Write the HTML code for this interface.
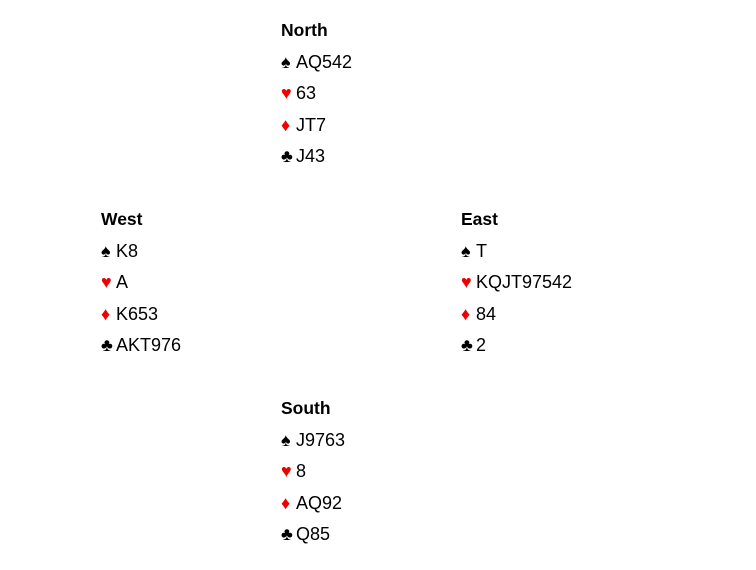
<!DOCTYPE html>
<html><head><meta charset="utf-8"><style>
body{margin:0;width:756px;height:570px;background:#fff;font-family:"Liberation Sans",sans-serif;font-size:18px;color:#000;position:relative;overflow:hidden}
.h{position:absolute}
.h div{white-space:nowrap;height:31.6px;line-height:31.6px}
b{font-weight:bold;font-size:17.5px}
.r{color:#e00}
.s{font-size:18px;display:inline-block;width:15px;line-height:10px}
</style></head><body>
<div class="h" style="left:281px;top:15px"><div><b>North</b></div><div><span class="s">♠</span>AQ542</div><div><span class="s r">♥</span>63</div><div><span class="s r">♦</span>JT7</div><div><span class="s">♣</span>J43</div></div>
<div class="h" style="left:101px;top:204px"><div><b>West</b></div><div><span class="s">♠</span>K8</div><div><span class="s r">♥</span>A</div><div><span class="s r">♦</span>K653</div><div><span class="s">♣</span>AKT976</div></div>
<div class="h" style="left:461px;top:204px"><div><b>East</b></div><div><span class="s">♠</span>T</div><div><span class="s r">♥</span>KQJT97542</div><div><span class="s r">♦</span>84</div><div><span class="s">♣</span>2</div></div>
<div class="h" style="left:281px;top:393px"><div><b>South</b></div><div><span class="s">♠</span>J9763</div><div><span class="s r">♥</span>8</div><div><span class="s r">♦</span>AQ92</div><div><span class="s">♣</span>Q85</div></div>
</body></html>
